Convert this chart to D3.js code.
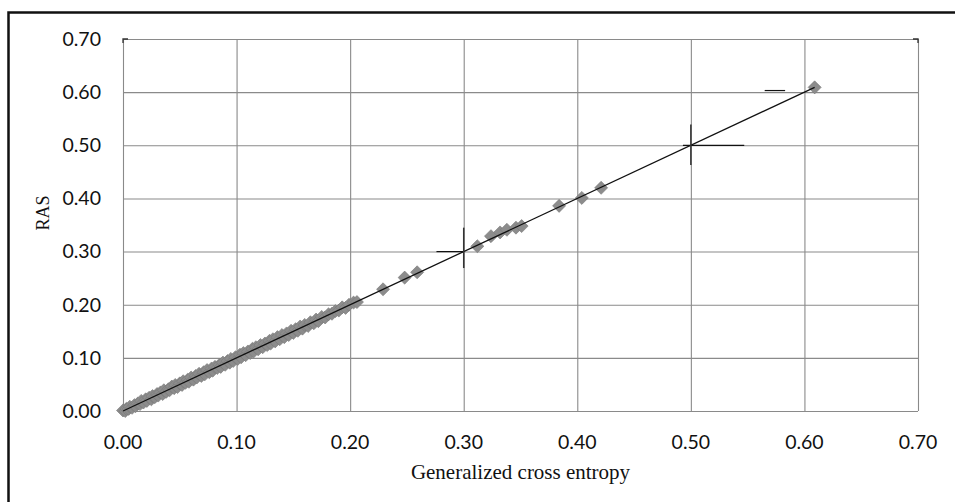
<!DOCTYPE html>
<html>
<head>
<meta charset="utf-8">
<script src="https://cdn.jsdelivr.net/npm/d3@7"></script>
<style>
  body { margin: 0; background: #fff; }
  .tick-label { font-family: Lato, "Open Sans", sans-serif; font-size: 19.5px; fill: #111; }
  .axis-title { font-family: "Liberation Serif", "DejaVu Serif", serif; fill: #111; }
</style>
</head>
<body>
<svg width="955" height="502"></svg>
<script>
'use strict';

// generalized cross entropy (x) vs RAS (y)
var gceX = [0.000, 0.002, 0.003, 0.005, 0.006, 0.008, 0.010, 0.011, 0.013, 0.015,
  0.016, 0.018, 0.020, 0.021, 0.023, 0.025, 0.026, 0.028, 0.030, 0.031,
  0.033, 0.035, 0.036, 0.038, 0.040, 0.041, 0.043, 0.045, 0.046, 0.048,
  0.050, 0.052, 0.053, 0.055, 0.057, 0.058, 0.060, 0.062, 0.064, 0.065,
  0.067, 0.069, 0.071, 0.072, 0.074, 0.076, 0.078, 0.079, 0.081, 0.083,
  0.085, 0.086, 0.088, 0.090, 0.092, 0.094, 0.095, 0.097, 0.099, 0.101,
  0.103, 0.104, 0.106, 0.108, 0.110, 0.112, 0.114, 0.115, 0.117, 0.119,
  0.121, 0.123, 0.125, 0.127, 0.129, 0.130, 0.132, 0.134, 0.136, 0.138,
  0.140, 0.142, 0.144, 0.146, 0.148, 0.150, 0.152, 0.154, 0.156, 0.158,
  0.160, 0.163, 0.165, 0.168, 0.170, 0.172, 0.175, 0.178, 0.181, 0.184,
  0.187, 0.190, 0.193, 0.196, 0.199, 0.203, 0.206,
  0.229, 0.248, 0.259, 0.312, 0.324, 0.332, 0.338, 0.346, 0.351,
  0.384, 0.404, 0.421, 0.609];
var rasY = [0.001, 0.000, 0.004, 0.004, 0.008, 0.006, 0.011, 0.009, 0.014, 0.013,
  0.019, 0.016, 0.022, 0.019, 0.025, 0.022, 0.028, 0.026, 0.032, 0.029,
  0.035, 0.032, 0.039, 0.036, 0.041, 0.039, 0.046, 0.043, 0.049, 0.045,
  0.052, 0.049, 0.056, 0.053, 0.059, 0.055, 0.063, 0.059, 0.066, 0.063,
  0.070, 0.066, 0.073, 0.069, 0.077, 0.073, 0.080, 0.076, 0.083, 0.081,
  0.087, 0.083, 0.091, 0.087, 0.094, 0.091, 0.098, 0.094, 0.101, 0.098,
  0.106, 0.101, 0.109, 0.105, 0.112, 0.109, 0.117, 0.112, 0.120, 0.116,
  0.124, 0.120, 0.127, 0.124, 0.132, 0.127, 0.135, 0.131, 0.139, 0.135,
  0.143, 0.139, 0.146, 0.143, 0.151, 0.147, 0.154, 0.151, 0.159, 0.155,
  0.162, 0.160, 0.167, 0.165, 0.172, 0.169, 0.177, 0.176, 0.182, 0.183,
  0.188, 0.189, 0.195, 0.194, 0.200, 0.204, 0.205,
  0.229, 0.251, 0.261, 0.310, 0.329, 0.336, 0.341, 0.345, 0.348,
  0.386, 0.401, 0.420, 0.609];

var trendEnds = [0.0, 0.609];
var tickValues = [0.0, 0.1, 0.2, 0.3, 0.4, 0.5, 0.6, 0.7];

// stray cross marks left in the original figure
var crossH = [[0.276, 0.300, 0.300], [0.493, 0.547, 0.500], [0.565, 0.583, 0.603]]; // x0, x1, y
var crossV = [[0.300, 0.269, 0.345], [0.500, 0.463, 0.539]];                      // x, y0, y1

var svg = d3.select("svg");
var margin = {top: 39, left: 123, right: 37, bottom: 91};
var width = 955 - margin.left - margin.right;     // 795
var height = 502 - margin.top - margin.bottom;    // 372

var x = d3.scaleLinear().domain([0, 0.7]).range([0, width]);
var y = d3.scaleLinear().domain([0, 0.7]).range([height, 0]);

// outer frame (right / bottom sides run off the picture)
svg.append("rect")
    .attr("x", 8.5).attr("y", 12.5)
    .attr("width", 960).attr("height", 520)
    .attr("fill", "none")
    .attr("stroke", "#111")
    .attr("stroke-width", 2.5);

var g = svg.append("g")
    .attr("transform", "translate(" + margin.left + "," + margin.top + ")");

// grid
g.append("g")
    .attr("transform", "translate(0," + height + ")")
    .call(d3.axisBottom(x).tickValues(tickValues).tickSize(-height).tickFormat(""))
    .call(function(a) { a.select(".domain").remove(); })
    .selectAll("line").attr("stroke", "#8a8a8a").attr("stroke-width", 1.1);

g.append("g")
    .call(d3.axisLeft(y).tickValues(tickValues).tickSize(-width).tickFormat(""))
    .call(function(a) { a.select(".domain").remove(); })
    .selectAll("line").attr("stroke", "#8a8a8a").attr("stroke-width", 1.1);

// small dark corner marks at the top of the plot area
g.append("path")
    .attr("d", "M0,4V0H5M" + (width - 5) + ",0H" + width + "V4")
    .attr("fill", "none")
    .attr("stroke", "#333")
    .attr("stroke-width", 1.3);

// tick labels
g.selectAll(".xlab")
    .data(tickValues)
  .enter().append("text")
    .attr("class", "tick-label")
    .attr("x", function(d) { return x(d); })
    .attr("y", height + 38)
    .attr("text-anchor", "middle")
    .text(function(d) { return d3.format(".2f")(d); });

g.selectAll(".ylab")
    .data(tickValues)
  .enter().append("text")
    .attr("class", "tick-label")
    .attr("x", -22)
    .attr("y", function(d) { return y(d); })
    .attr("dy", "0.35em")
    .attr("text-anchor", "end")
    .text(function(d) { return d3.format(".2f")(d); });

// axis titles
svg.append("text")
    .attr("class", "axis-title")
    .attr("x", margin.left + width / 2)
    .attr("y", 479)
    .attr("text-anchor", "middle")
    .style("font-size", "21px")
    .text("Generalized cross entropy");

svg.append("text")
    .attr("class", "axis-title")
    .attr("transform", "translate(49,213) rotate(-90)")
    .attr("text-anchor", "middle")
    .style("font-size", "18px")
    .text("RAS");

// points
var points = d3.zip(gceX, rasY);
g.selectAll(".pt")
    .data(points)
  .enter().append("path")
    .attr("class", "pt")
    .attr("d", d3.symbol().type(d3.symbolSquare).size(85))
    .attr("transform", function(d) { return "translate(" + x(d[0]) + "," + y(d[1]) + ") rotate(45)"; })
    .attr("fill", "#8c8c8c")
    .attr("stroke", "#7a7a7a")
    .attr("stroke-width", 0.6);

// trend line
g.append("line")
    .attr("x1", x(trendEnds[0])).attr("y1", y(trendEnds[0]))
    .attr("x2", x(trendEnds[1])).attr("y2", y(trendEnds[1]))
    .attr("stroke", "#111")
    .attr("stroke-width", 1.3);

g.selectAll(".ch")
    .data(crossH)
  .enter().append("line")
    .attr("x1", function(d) { return x(d[0]); })
    .attr("x2", function(d) { return x(d[1]); })
    .attr("y1", function(d) { return y(d[2]); })
    .attr("y2", function(d) { return y(d[2]); })
    .attr("stroke", "#111")
    .attr("stroke-width", 1.2);

g.selectAll(".cv")
    .data(crossV)
  .enter().append("line")
    .attr("x1", function(d) { return x(d[0]); })
    .attr("x2", function(d) { return x(d[0]); })
    .attr("y1", function(d) { return y(d[1]); })
    .attr("y2", function(d) { return y(d[2]); })
    .attr("stroke", "#333")
    .attr("stroke-width", 1.5);
</script>
</body>
</html>
